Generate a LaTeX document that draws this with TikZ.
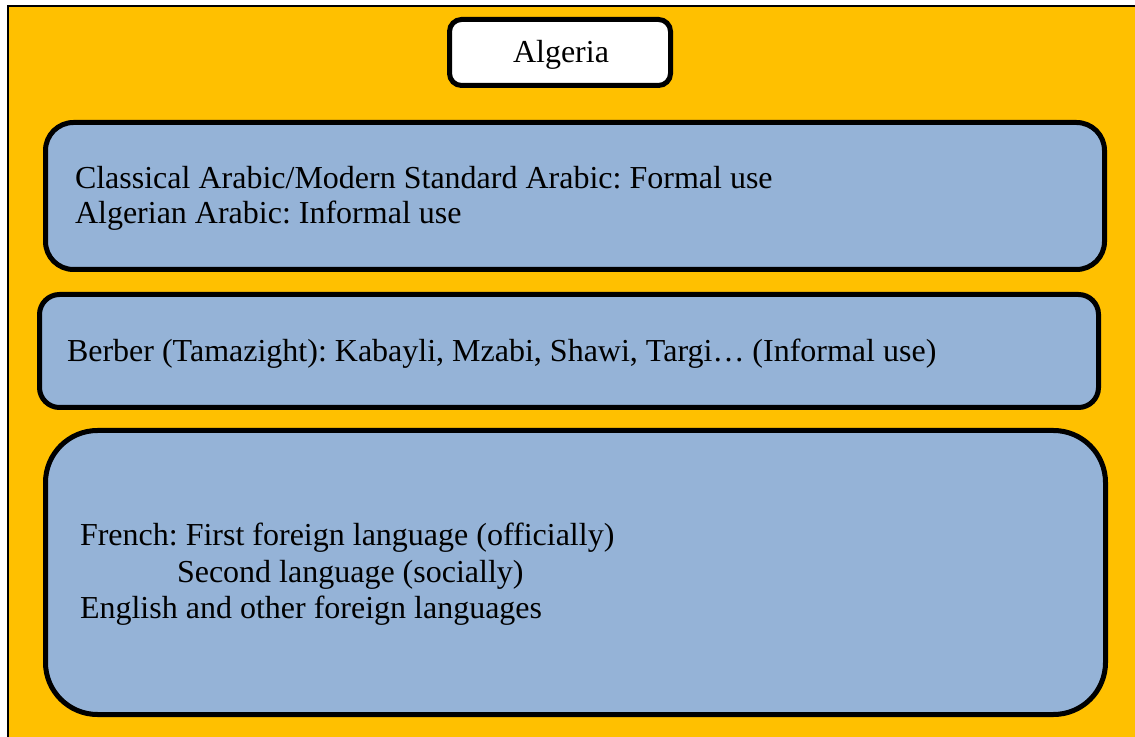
\documentclass[tikz,border=0pt]{standalone}
\usepackage{fontspec}
\setmainfont{Liberation Serif}
\frenchspacing
\definecolor{bgorange}{HTML}{FFC000}
\definecolor{boxblue}{HTML}{95B3D7}
\begin{document}
\begin{tikzpicture}[x=0.75pt,y=-0.75pt,
  langbox/.style={draw=black,fill=boxblue,line width=3.75pt},
  titlebox/.style={draw=black,fill=white,line width=3.75pt,rounded corners=9pt},
  txt/.style={anchor=base west,inner sep=0pt,outer sep=0pt,font=\fontsize{24pt}{26.25pt}\selectfont\frenchspacing}]
\useasboundingbox (0,0) rectangle (1135,737);
\clip (0,0) rectangle (1135,737);
\fill[white] (0,0) rectangle (1135,737);
\draw[fill=bgorange,line width=1.5pt] (8,6) rectangle (1145,750);
% title
\draw[titlebox] (449.5,19.5) rectangle (670.5,85.5);
\node[txt] (title) at (513,63) {Algeria};
% box 1
\draw[langbox,rounded corners=21pt] (45.5,122.5) rectangle (1104.5,269.5);
\node[txt] (l1) at (75,189) {Classical Arabic/Modern Standard Arabic: Formal use};
\node[txt] (l2) at (75,224) {Algerian Arabic: Informal use};
% box 2
\draw[langbox,rounded corners=15pt] (39.5,294.5) rectangle (1098.5,407.5);
\node[txt] (l3) at (67,362) {Berber (Tamazight): Kabayli, Mzabi, Shawi, Targi\dots\ (Informal use)};
% box 3
\draw[langbox,rounded corners=39pt] (45.5,430.5) rectangle (1105.5,714.5);
\node[txt] (l4) at (80,546) {French: First foreign language (officially)};
\node[txt] (l5) at (177,582) {Second language (socially)};
\node[txt] (l6) at (80,618) {English and other foreign languages};
\end{tikzpicture}
\end{document}
